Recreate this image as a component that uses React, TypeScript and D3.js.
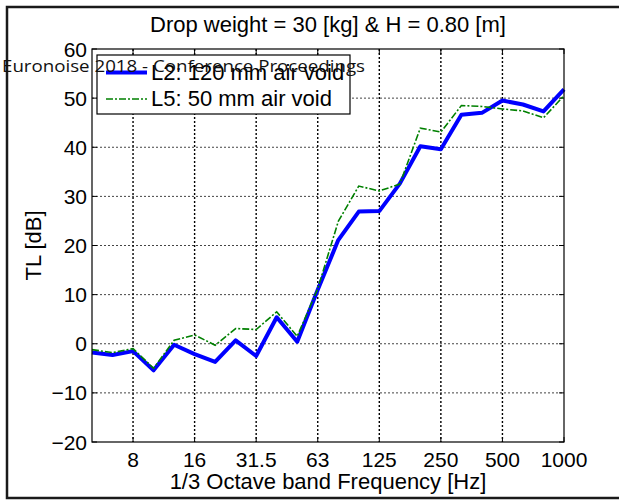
import React from "react";
import * as d3 from "d3";

const bands = ["5", "6.3", "8", "10", "12.5", "16", "20", "25", "31.5", "40", "50", "63", "80", "100", "125", "160", "200", "250", "315", "400", "500", "630", "800", "1000"];
const seriesL2 = [-1.8, -2.3, -1.5, -5.4, -0.2, -2.1, -3.7, 0.7, -2.5, 5.4, 0.4, 11.0, 21.1, 26.9, 27.0, 32.6, 40.2, 39.6, 46.6, 47.0, 49.5, 48.7, 47.3, 51.8];
const seriesL5 = [-1.2, -1.8, -1.0, -5.0, 0.7, 1.8, -0.3, 3.1, 2.9, 6.5, 1.5, 11.2, 24.9, 32.1, 31.1, 32.5, 43.9, 43.1, 48.5, 48.3, 47.8, 47.4, 46.0, 50.5];
const xTicks = ["8", "16", "31.5", "63", "125", "250", "500", "1000"];
const yTicks = [-20, -10, 0, 10, 20, 30, 40, 50, 60];
const legendLabels = ["L2: 120 mm air void", "L5: 50 mm air void"];
const title = "Drop weight = 30 [kg] & H = 0.80 [m]";
const xLabel = "1/3 Octave band Frequency [Hz]";
const yLabel = "TL [dB]";
const watermark = "Euronoise 2018 - Conference Proceedings";

const W = 619, H = 501;
const L = 92, R = 564, T = 49, B = 442;
const FONT = "'Liberation Sans', Arial, Helvetica, sans-serif";
const FS = 22;
const TFS = 21;

export default function App() {
  const x = d3.scalePoint<string>().domain(bands).range([L, R]);
  const y = d3.scaleLinear().domain([-20, 60]).range([B, T]);
  const line = d3.line<number>().x((_, i) => x(bands[i])!).y((d) => y(d));
  const tick = 5;
  return (
    <svg width={W} height={H} style={{ position: "absolute", left: 0, top: 0, background: "#fff" }} fontFamily={FONT}>
      <rect x={0} y={0} width={W} height={H} fill="#fff" />
      <rect x={7} y={7} width={700} height={491} fill="none" stroke="#1a1a1a" strokeWidth={2.5} />
      {/* grid */}
      {yTicks.filter((v) => v > -20 && v < 60).map((v) => (
        <line key={"gy" + v} x1={L} x2={R} y1={y(v)} y2={y(v)} stroke="#444" strokeWidth={1} strokeDasharray="2,2" />
      ))}
      {xTicks.filter((b) => b !== "1000").map((b) => (
        <line key={"gx" + b} x1={x(b)} x2={x(b)} y1={T} y2={B} stroke="#000" strokeWidth={1.4} strokeDasharray="2,2" />
      ))}
      {/* ticks */}
      {yTicks.map((v) => (
        <g key={"ty" + v}>
          <line x1={L} x2={L + tick} y1={y(v)} y2={y(v)} stroke="#000" />
          <line x1={R} x2={R - tick} y1={y(v)} y2={y(v)} stroke="#000" />
          <text x={L - 5} y={y(v)} dy="0.36em" textAnchor="end" fontSize={TFS} fill="#000">
            {v < 0 ? "\u2212" + Math.abs(v) : String(v)}
          </text>
        </g>
      ))}
      {xTicks.map((b) => (
        <g key={"tx" + b}>
          <line x1={x(b)} x2={x(b)} y1={B} y2={B - tick} stroke="#000" />
          <line x1={x(b)} x2={x(b)} y1={T} y2={T + tick} stroke="#000" />
          <text x={x(b)} y={467} textAnchor="middle" fontSize={TFS} fill="#000">{b}</text>
        </g>
      ))}
      {/* data */}
      <path d={line(seriesL2)!} fill="none" stroke="#0000ff" strokeWidth={4} strokeLinejoin="round" />
      <path d={line(seriesL5)!} fill="none" stroke="#008000" strokeWidth={1.6} strokeDasharray="7,2,2,2" />
      {/* axes box */}
      <rect x={L} y={T} width={R - L} height={B - T} fill="none" stroke="#000" strokeWidth={1.2} />
      {/* legend */}
      <rect x={97} y={55} width={253} height={59} fill="#fff" stroke="#000" strokeWidth={1.2} />
      <line x1={106} x2={147} y1={72.5} y2={72.5} stroke="#0000ff" strokeWidth={4} />
      <line x1={106} x2={147} y1={99} y2={99} stroke="#008000" strokeWidth={1.6} strokeDasharray="7,2,2,2" />
      <text x={151} y={80} fontSize={FS} fill="#000">{legendLabels[0]}</text>
      <text x={151} y={106} fontSize={FS} fill="#000">{legendLabels[1]}</text>
      {/* titles */}
      <text x={(L + R) / 2} y={32} textAnchor="middle" fontSize={FS} fill="#000">{title}</text>
      <text x={(L + R) / 2} y={489} textAnchor="middle" fontSize={FS} fill="#000">{xLabel}</text>
      <text transform={`translate(41,${(T + B) / 2}) rotate(-90)`} textAnchor="middle" fontSize={FS} fill="#000">{yLabel}</text>
      {/* watermark */}
      <text x={2} y={72} fontSize={16} fill="#111" fontFamily="'Open Sans', 'Noto Sans', sans-serif" textLength={363} lengthAdjust="spacingAndGlyphs">{watermark}</text>
    </svg>
  );
}
